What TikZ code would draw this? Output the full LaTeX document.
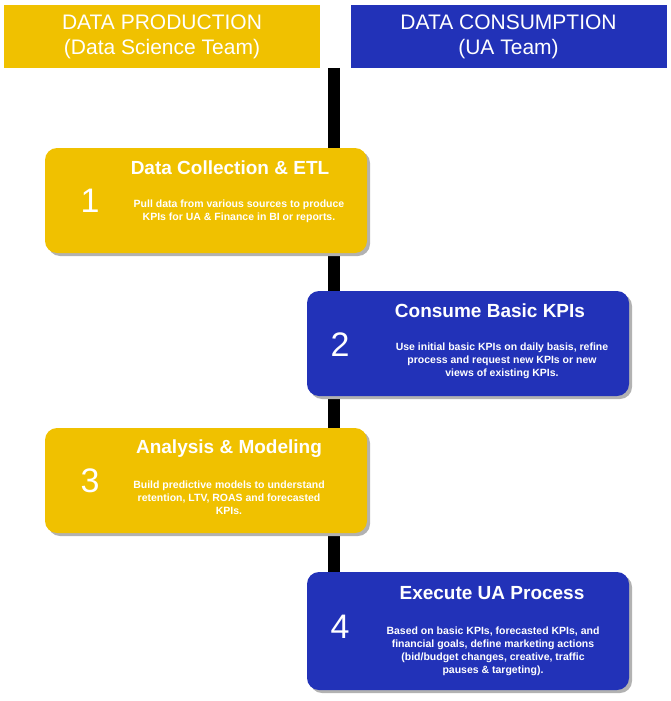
\documentclass[tikz,border=0pt]{standalone}
\usepackage{fontspec}
\setmainfont{Liberation Sans}
\usetikzlibrary{shadows}
\definecolor{prodyellow}{RGB}{240,193,0}
\definecolor{consblue}{RGB}{34,50,184}

\begin{document}
\begin{tikzpicture}[x=1pt,y=-1pt,
	header/.style={minimum width=316pt, minimum height=63pt, text=white, align=center, font=\fontsize{21}{25}\selectfont},
	stagebox/.style={rounded corners=12pt, minimum width=322pt, minimum height=105pt, drop shadow={shadow xshift=3pt, shadow yshift=-3pt, fill=black!30, opacity=1}},
	stagetitle/.style={text=white, font=\bfseries\fontsize{19}{22}\selectfont},
	stagenum/.style={text=white, font=\fontsize{34}{38}\selectfont},
	stagetext/.style={text=white, align=center, font=\bfseries\fontsize{10.5}{13}\selectfont}]
	\useasboundingbox (0,0) rectangle (670,701);
	% headers
	\node[header, fill=prodyellow] (prod) at (162,36.5) {DATA PRODUCTION\\(Data Science Team)};
	\node[header, fill=consblue] (cons) at (508.5,36.5) {DATA CONSUMPTION\\(UA Team)};
	% timeline
	\coordinate (top) at (334,68);
	\coordinate (bottom) at (334,575);
	\draw[black, line width=12pt] (top) -- (bottom);
	% stage 1
	\node[stagebox, fill=prodyellow] (s1) at (206,200.5) {};
	\node[stagetitle] (t1) at (230,168) {Data Collection \& ETL};
	\node[stagenum] (n1) at (90,201) {1};
	\node[stagetext] (d1) at (239,211) {Pull data from various sources to produce\\KPIs for UA \& Finance in BI or reports.};
	% stage 2
	\node[stagebox, fill=consblue] (s2) at (468,343.5) {};
	\node[stagetitle] (t2) at (490,311) {Consume Basic KPIs};
	\node[stagenum] (n2) at (340,345) {2};
	\node[stagetext] (d2) at (502,361) {Use initial basic KPIs on daily basis, refine\\process and request new KPIs or new\\views of existing KPIs.};
	% stage 3
	\node[stagebox, fill=prodyellow] (s3) at (206,480.5) {};
	\node[stagetitle] (t3) at (229,449) {Analysis \& Modeling};
	\node[stagenum] (n3) at (90,481) {3};
	\node[stagetext] (d3) at (229,498) {Build predictive models to understand\\retention, LTV, ROAS and forecasted\\KPIs.};
	% stage 4
	\node[stagebox, fill=consblue, minimum height=118pt] (s4) at (468,631) {};
	\node[stagetitle] (t4) at (492,593) {Execute UA Process};
	\node[stagenum] (n4) at (340,627) {4};
	\node[stagetext] (d4) at (493,651) {Based on basic KPIs, forecasted KPIs, and\\financial goals, define marketing actions\\(bid/budget changes, creative, traffic\\pauses \& targeting).};
\end{tikzpicture}
\end{document}
